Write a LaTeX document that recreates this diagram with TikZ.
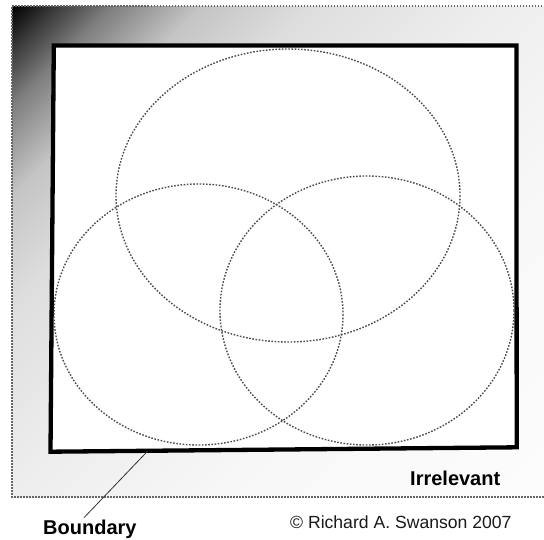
\documentclass[tikz,border=0pt]{standalone}
\usepackage{fontspec}
\setmainfont{Liberation Sans}
\usetikzlibrary{calc}
\pgfdeclarehorizontalshading{cornershade}{100bp}{color(0bp)=(black); color(25bp)=(black); color(27.4bp)=(black!75); color(29.9bp)=(black!50); color(34.2bp)=(black!23); color(39.5bp)=(black!13); color(48.3bp)=(black!7); color(58.9bp)=(black!3); color(75bp)=(black!1); color(100bp)=(black!1)}
\tikzset{
  venn/.style={draw=black!70, line width=1.4pt, dash pattern=on 1.6pt off 1.6pt},
  outerdots/.style={draw=black!60, line width=1.1pt, dash pattern=on 1.5pt off 1.5pt},
  boundarybox/.style={draw=black, line width=4.3pt, fill=white, line join=miter},
  boldlabel/.style={font=\fontsize{20}{24}\selectfont\bfseries, inner sep=0pt, anchor=base west},
  copylabel/.style={font=\fontsize{17.6}{21}\selectfont, inner sep=0pt, anchor=base west, text=black!90},
}
\begin{document}
\begin{tikzpicture}[x=1pt,y=-1pt]
\useasboundingbox (0,0) rectangle (544,539);
% gradient background
\begin{scope}
  \clip (12,6) rectangle (546,497);
  \begin{scope}[transform canvas={shift={(12,6)},rotate=-45}]
    \shade[shading=cornershade] (0,-560) rectangle (730,560);
  \end{scope}
\end{scope}
\draw[outerdots] (548,6) -- (12,6) -- (12,497) -- (548,497);
% boundary box
\path[boundarybox] (53.8,45.5) coordinate (tl) -- (516.4,45.5) coordinate (tr) -- (516.7,447.3) coordinate (br) -- (50.5,451.7) coordinate (bl) -- cycle;
% ellipses
\draw[venn] (288,195.5) ellipse [x radius=172, y radius=146.5];
\draw[venn] (198.5,314.5) ellipse [x radius=144.5, y radius=130.5];
\draw[venn] (367,310.5) ellipse [x radius=147, y radius=134.5];
% labels
\node[boldlabel] (irr) at (410,485) {Irrelevant};
\node[copylabel] (copy) at (290,528) {© Richard A. Swanson 2007};
\node[boldlabel] (bnd) at (43,534.5) {Boundary};
\coordinate (bpt) at ($(bl)!0.209!(br)$);
\draw[black!80, line width=0.8pt] (bpt) -- ([xshift=-6pt,yshift=2pt]bnd.north);
\end{tikzpicture}
\end{document}
